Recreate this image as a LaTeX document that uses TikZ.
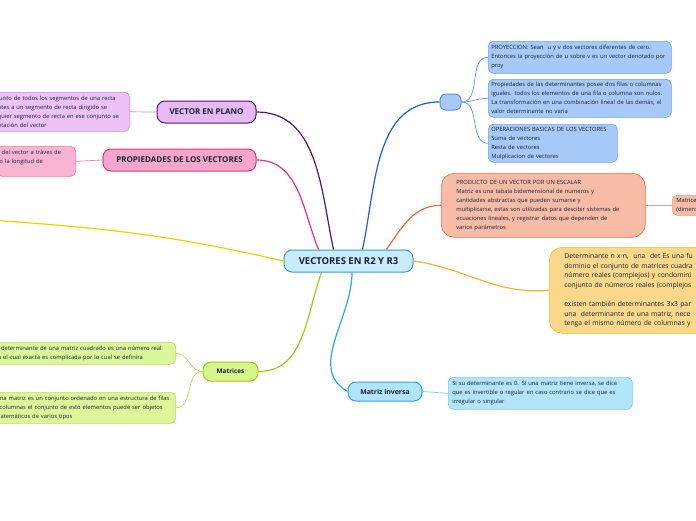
\documentclass[tikz,border=0pt]{standalone}
\usepackage{fontspec}
\setmainfont{Open Sans}
\usepackage{tikz}
\definecolor{inkdark}{HTML}{14243A}
\definecolor{cenfill}{HTML}{C9EBFA}
\definecolor{cendraw}{HTML}{3C9BD6}
\definecolor{purline}{HTML}{4E1A63}
\definecolor{purfill}{HTML}{E8B8F5}
\definecolor{purnote}{HTML}{ECC2F7}
\definecolor{purnotedraw}{HTML}{C987DD}
\definecolor{pinkline}{HTML}{E8307C}
\definecolor{pinkfill}{HTML}{F7A6CB}
\definecolor{pinknote}{HTML}{F9B3D3}
\definecolor{pinknotedraw}{HTML}{F07AAE}
\definecolor{yelline}{HTML}{E8D200}
\definecolor{goldline}{HTML}{F5B52A}
\definecolor{goldfill}{HTML}{FDD88A}
\definecolor{blueline}{HTML}{1A5FD9}
\definecolor{bluefill}{HTML}{A6C9F7}
\definecolor{bluedraw}{HTML}{6FA3EE}
\definecolor{orline}{HTML}{EE6A3E}
\definecolor{orfill}{HTML}{F8BBA6}
\definecolor{ornotedraw}{HTML}{F09A7E}
\definecolor{grline}{HTML}{9DCB1D}
\definecolor{grfill}{HTML}{D8F58C}
\definecolor{grnote}{HTML}{DCF79A}
\definecolor{grnotedraw}{HTML}{B8DE5C}
\definecolor{cyline}{HTML}{2AA8E4}
\definecolor{cyfill}{HTML}{B2E4FA}
\definecolor{cynotedraw}{HTML}{79C8EE}
\tikzset{%
	topic/.style={rounded corners=8pt, line width=1pt, inner sep=0pt, align=center, text=inkdark,
		font=\bfseries\fontsize{8}{9}\selectfont},
	note/.style={rounded corners=5pt, line width=0.6pt, inner xsep=3pt, inner ysep=0pt, align=left,
		text=inkdark, font=\fontsize{5.8}{9}\selectfont},
	branch/.style={line width=1.2pt},
	twig/.style={line width=0.7pt}
}

\begin{document}
\begin{tikzpicture}[x=1pt, y=-1pt]
				\useasboundingbox (0,0) rectangle (696,520);
				\clip (0,0) rectangle (696,520);
				% main topics
				\node [topic, fill=cenfill, draw=cendraw, minimum width=129pt, minimum height=22pt,
					font=\bfseries\fontsize{9.5}{10}\selectfont] (vec) at (348.5,261) {VECTORES EN R2 Y R3};
				\node [topic, fill=purfill, draw=purline, minimum width=99pt, minimum height=22pt] (plano) at (206.5,112) {VECTOR EN PLANO};
				\node [topic, fill=pinkfill, draw=pinkline, minimum width=153pt, minimum height=22pt] (prop) at (179.5,160) {PROPIEDADES DE LOS VECTORES};
				\node [topic, fill=bluefill, draw=blueline!70, minimum width=21pt, minimum height=16pt, rounded corners=6pt] (proy) at (450.5,102) {};
				\node [topic, fill=grfill, draw=grline, minimum width=55pt, minimum height=19pt,
					font=\bfseries\fontsize{6.4}{7}\selectfont] (mat) at (230.5,371.5) {Matrices};
				\node [topic, fill=cyfill, draw=cyline, minimum width=74pt, minimum height=19pt,
					font=\bfseries\fontsize{6.9}{7}\selectfont] (inv) at (385,391.5) {Matriz inversa};
				% notes
				\node [note, fill=purnote, draw=purnotedraw, anchor=north east, text width=129pt, minimum height=39pt] (planonote) at (130,92)
					{junto de todos los segmentos de una recta\\ntes a un segmento de recta dirigido se\\quier segmento de recta en ese conjunto se\\ntación del vector};
				\node [note, fill=pinknote, draw=pinknotedraw, anchor=north east, text width=73pt, minimum height=30pt] (propnote) at (76,146)
					{\hspace*{2pt}del vector a tráves de\\o la longitud de\\\mbox{}};
				\node [note, fill=bluefill, draw=bluedraw, anchor=north west, text width=177pt, minimum height=32pt] (proynote) at (488,41)
					{PROYECCION: Sean\ \ u y v dos vectores diferentes de cero.\\Entonces la proyección de u sobre v es un vector denotado por\\proy};
				\node [note, fill=bluefill, draw=bluedraw, anchor=north west, text width=177pt, minimum height=38pt] (detnote) at (488,79)
					{Propiedades de las determinantes posee dos filas o columnas\\iguales. todos los elementos de una fila o columna son nulos.\\La transformación en una combinación lineal de las demás, el\\valor determinante no varia};
				\node [note, fill=bluefill, draw=bluedraw, anchor=north west, text width=123pt, minimum height=38pt] (opnote) at (488,124)
					{OPERACIONES BASICAS DE LOS VECTORES\\Suma de vectores\\Resta de vectores\\Mulplicacion de vectores};
				\node [note, fill=orfill, draw=orline, anchor=north west, rounded corners=13pt, inner xsep=15pt,
					text width=174pt, minimum height=64pt] (escalar) at (441,173)
					{PRODUCTO DE UN VECTOR POR UN ESCALAR\\Matriz es una tabala bidemensional de numeros y\\cantidades abstractas que pueden sumarse y\\multiplicarse, estas son utilizadas para descibir sistemas de\\ecuaciones lineales, y registrar datos que dependen de\\varios parámetros};
				\node [note, fill=orfill, draw=ornotedraw, anchor=north west, inner xsep=4pt, text width=40pt, minimum height=20pt] (dimnote) at (672,195)
					{Matrice\\(dimens};
				\node [note, fill=goldfill, draw=goldline, anchor=north west, rounded corners=13pt, inner xsep=15pt,
					text width=150pt, minimum height=86pt, font=\fontsize{6.8}{9.6}\selectfont] (detn) at (549,247)
					{Determinante n x n,\ \ una\ \ det Es una fu\\dominio el conjunto de matrices cuadra\\número reales (complejos) y condomini\\conjunto de números reales (complejos\\\mbox{}\\existen también determinantes 3x3 par\\una\ \ determinante de una matriz, nece\\tenga el mismo número de columnas y};
				\node [note, fill=grnote, draw=grnotedraw, anchor=north east, text width=175pt, minimum height=22pt] (cuadnote) at (176,342)
					{l determinante de una matriz cuadrado es una número real\\n el cual exacta es complicada por lo cual se definira};
				\node [note, fill=grnote, draw=grnotedraw, anchor=north east, text width=175pt, minimum height=31pt] (matnote) at (176,392)
					{\hspace*{-2pt}Una matriz es un conjunto ordenado en una estructura de filas\\\hspace*{2pt}columnas el conjunto de esto elementos puede ser objetos\\\hspace*{-2.5pt}matemáticos de varios tipos};
				\node [note, fill=cyfill, draw=cynotedraw, anchor=north west, inner xsep=4pt, text width=176pt, minimum height=32pt] (invnote) at (448,377)
					{Si su determinante es 0. Si una matriz tiene inversa, se dice\\que es invertible o regular en caso contrario se dice que es\\irregular o singular};
				\coordinate (yelend) at (-10,220);
				% branches from the centre
				\draw [branch, purline] ([xshift=-15pt]vec.north) to[out=102, in=0] (plano.east);
				\draw [branch, pinkline] ([xshift=-30pt]vec.north) to[out=112, in=0] (prop.east);
				\draw [branch, blueline] ([xshift=14pt]vec.north) to[out=78, in=180] (proy.west);
				\draw [branch, orline] ([xshift=38pt]vec.north) to[out=55, in=180] (escalar.west);
				\draw [branch, goldline] (vec.east) to[out=-8, in=185] (detn.west);
				\draw [branch, yelline] (vec.west) to[out=167, in=-4] (yelend);
				\draw [branch, grline] ([xshift=-27pt]vec.south) to[out=-110, in=0] (mat.east);
				\draw [branch, cyline] ([xshift=3.5pt]vec.south) to[out=-90, in=150] (inv.west);
				% twigs
				\draw [twig, purnotedraw] (plano.west) -- (planonote.east);
				\draw [twig, pinknotedraw] (prop.west) -- (propnote.east);
				\draw [twig, bluedraw!80!blueline] (proy.east) to[out=0, in=180] (proynote.west);
				\draw [twig, bluedraw!80!blueline] (proy.east) to[out=0, in=180] (detnote.west);
				\draw [twig, bluedraw!80!blueline] (proy.east) to[out=0, in=180] (opnote.west);
				\draw [twig, ornotedraw] (escalar.east) -- (dimnote.west);
				\draw [twig, grnotedraw] (mat.west) to[out=180, in=0] (cuadnote.east);
				\draw [twig, grnotedraw] (mat.west) to[out=180, in=0] (matnote.east);
				\draw [twig, cynotedraw] (inv.east) -- (invnote.west);
			\end{tikzpicture}
\end{document}
